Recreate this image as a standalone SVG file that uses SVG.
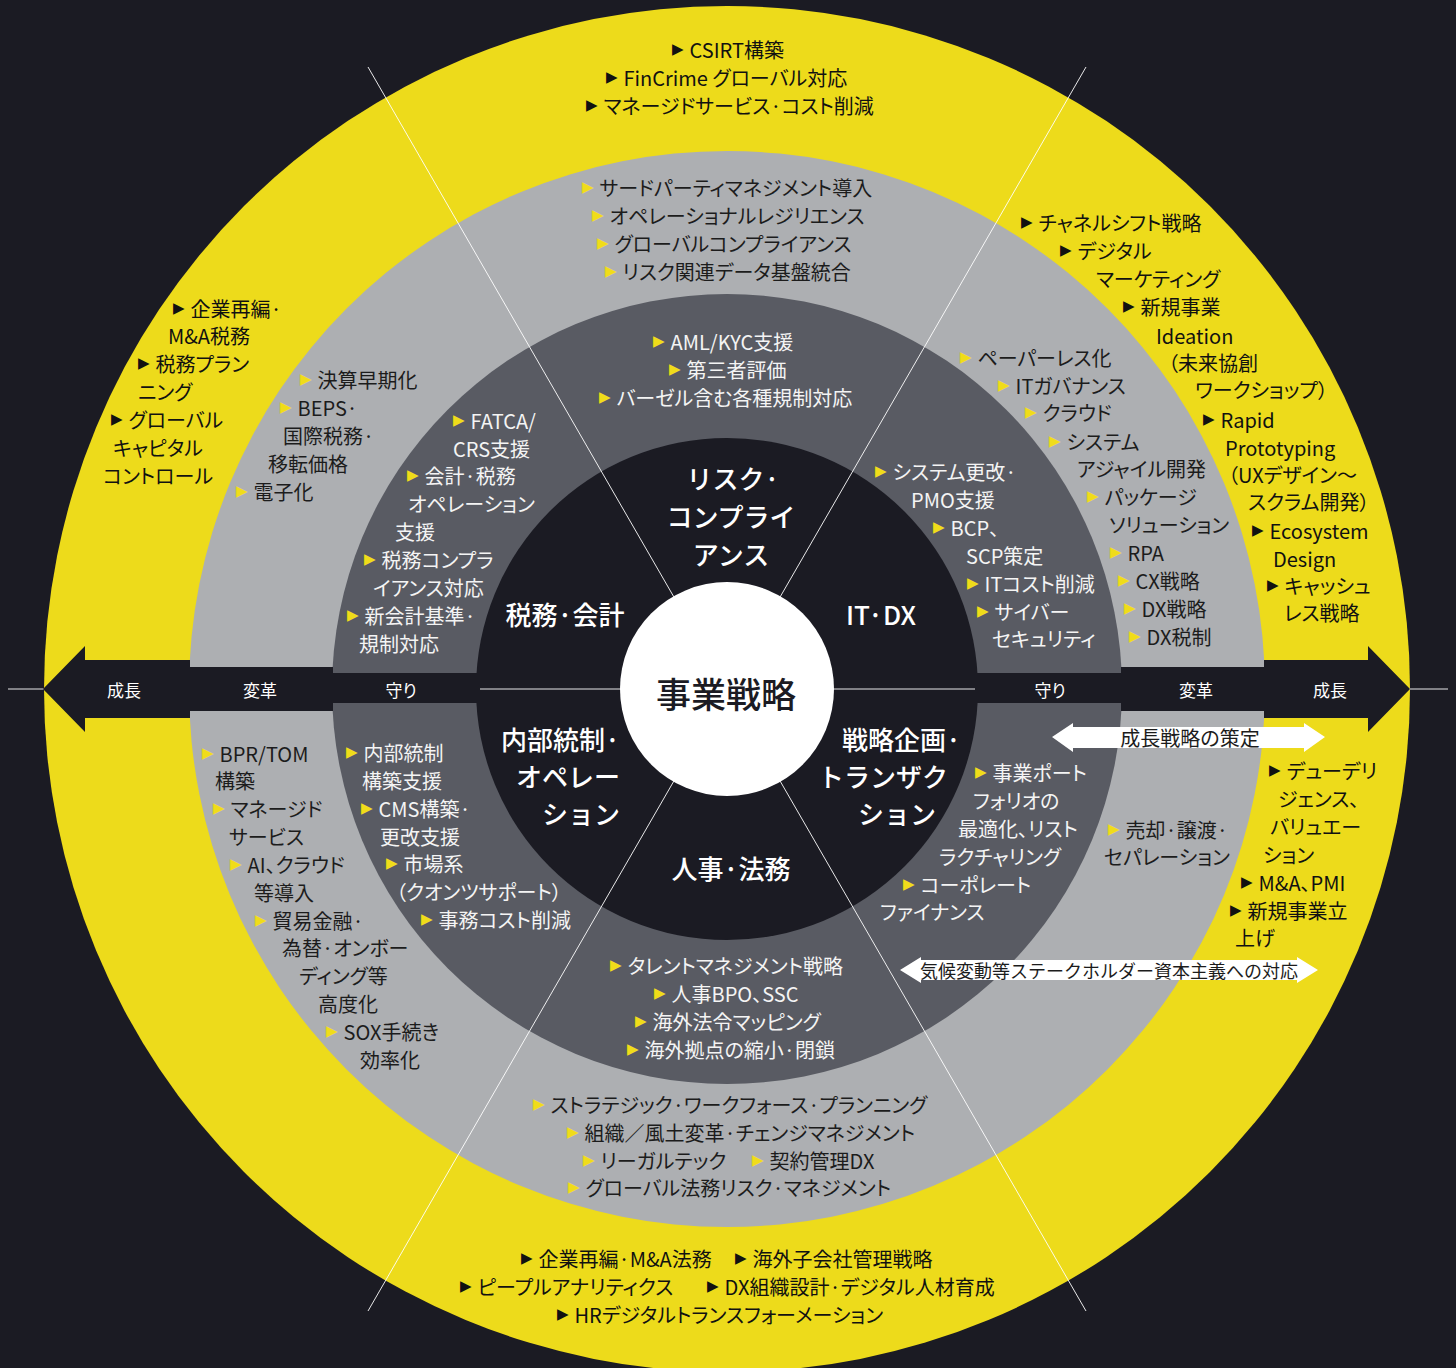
<svg xmlns="http://www.w3.org/2000/svg" width="1456" height="1368" viewBox="0 0 1456 1368">
<style>
text{font-family:"Noto Sans CJK JP","Noto Sans",sans-serif;font-size:20px;dominant-baseline:central;font-feature-settings:"palt"}
.k{fill:#111}
.g{fill:#1c1c1c}
.w{fill:#f4f4f4}
.bk{fill:#111;font-family:"DejaVu Sans",sans-serif;font-size:15px;font-feature-settings:normal}
.by{fill:#f0dc1a;font-family:"DejaVu Sans",sans-serif;font-size:15px;font-feature-settings:normal}
.lab{fill:#fff;font-size:26px;font-weight:500;text-anchor:middle;font-feature-settings:normal}
.band{fill:#fff;font-size:17px;text-anchor:middle}
.rad{stroke:#fff;stroke-width:1;opacity:.9}
.dk{fill:#1b1b23}
</style>
<rect width="1456" height="1368" fill="#1b1b23"/>
<g id="rings">
<circle cx="727" cy="689" r="683" fill="#eddb1b"/>
<circle cx="727" cy="689" r="538" fill="#adafb2"/>
<circle cx="727" cy="689" r="395" fill="#595b63"/>
<circle cx="727" cy="689" r="251" fill="#1b1b23"/>
</g>
<g id="connectors">
<line class="rad" x1="368" y1="67" x2="1086" y2="1311"/>
<line class="rad" x1="1086" y1="67" x2="368" y2="1311"/>
<line class="rad" x1="8" y1="689" x2="1448" y2="689"/>
<polygon class="dk" points="43,689 85,646 85,660 190,660 190,667 333,667 333,673 480,673 480,703 333,703 333,711 190,711 190,718 85,718 85,732"/>
<polygon class="dk" points="1410,689 1368,646 1368,660 1264,660 1264,667 1121,667 1121,673 975,673 975,703 1121,703 1121,711 1264,711 1264,718 1368,718 1368,732"/>
<text class="band" x="124" y="689">成長</text>
<text class="band" x="260" y="689">変革</text>
<text class="band" x="401" y="689">守り</text>
<text class="band" x="1050" y="689">守り</text>
<text class="band" x="1196" y="689">変革</text>
<text class="band" x="1330" y="689">成長</text>
<polygon fill="#fff" points="1052,737 1073,723 1073,727 1304,727 1304,723 1325,737 1304,752 1304,748 1073,748 1073,752"/>
<text class="g" x="1190" y="737" text-anchor="middle">成長戦略の策定</text>
<polygon fill="#fff" points="900,970 921,957 921,960 1297,960 1297,957 1318,970 1297,983 1297,980 921,980 921,983"/>
<text class="g" x="1109" y="970" text-anchor="middle" style="font-size:18px;font-feature-settings:normal">気候変動等ステークホルダー資本主義への対応</text>
</g>
<g id="core">
<circle cx="727" cy="689" r="107" fill="#fff"/>
<text x="726" y="692" text-anchor="middle" style="font-size:35px;font-weight:500;fill:#1b1b23;font-feature-settings:normal">事業戦略</text>
</g>
<g id="risk">
<text class="lab" x="733" y="477">リスク·</text>
<text class="lab" x="731" y="515">コンプライ</text>
<text class="lab" x="731" y="553">アンス</text>
<text class="k" x="672" y="49"><tspan class="bk">▶</tspan><tspan dx="6">CSIRT構築</tspan></text>
<text class="k" x="606" y="77"><tspan class="bk">▶</tspan><tspan dx="6">FinCrime グローバル対応</tspan></text>
<text class="k" x="586" y="105"><tspan class="bk">▶</tspan><tspan dx="6">マネージドサービス·コスト削減</tspan></text>
<text class="g" x="582" y="187"><tspan class="by">▶</tspan><tspan dx="6">サードパーティマネジメント導入</tspan></text>
<text class="g" x="592" y="215"><tspan class="by">▶</tspan><tspan dx="6">オペレーショナルレジリエンス</tspan></text>
<text class="g" x="597" y="243"><tspan class="by">▶</tspan><tspan dx="6">グローバルコンプライアンス</tspan></text>
<text class="g" x="605" y="271"><tspan class="by">▶</tspan><tspan dx="6">リスク関連データ基盤統合</tspan></text>
<text class="w" x="653" y="341"><tspan class="by">▶</tspan><tspan dx="6">AML/KYC支援</tspan></text>
<text class="w" x="669" y="369"><tspan class="by">▶</tspan><tspan dx="6">第三者評価</tspan></text>
<text class="w" x="599" y="397"><tspan class="by">▶</tspan><tspan dx="6">バーゼル含む各種規制対応</tspan></text>
</g>
<g id="itdx">
<text class="lab" x="881" y="613">IT·DX</text>
<text class="k" x="1021" y="222"><tspan class="bk">▶</tspan><tspan dx="6">チャネルシフト戦略</tspan></text>
<text class="k" x="1060" y="250"><tspan class="bk">▶</tspan><tspan dx="6">デジタル</tspan></text>
<text class="k" x="1096" y="278">マーケティング</text>
<text class="k" x="1123" y="306"><tspan class="bk">▶</tspan><tspan dx="6">新規事業</tspan></text>
<text class="k" x="1156" y="335">Ideation</text>
<text class="k" x="1168" y="362">（未来協創</text>
<text class="k" x="1195" y="389">ワークショップ）</text>
<text class="k" x="1203" y="419"><tspan class="bk">▶</tspan><tspan dx="6">Rapid</tspan></text>
<text class="k" x="1225" y="447">Prototyping</text>
<text class="k" x="1228" y="474">（UXデザイン～</text>
<text class="k" x="1248" y="501">スクラム開発）</text>
<text class="k" x="1252" y="530"><tspan class="bk">▶</tspan><tspan dx="6">Ecosystem</tspan></text>
<text class="k" x="1273" y="558">Design</text>
<text class="k" x="1267" y="585"><tspan class="bk">▶</tspan><tspan dx="6">キャッシュ</tspan></text>
<text class="k" x="1284" y="612">レス戦略</text>
<text class="g" x="960" y="357"><tspan class="by">▶</tspan><tspan dx="6">ペーパーレス化</tspan></text>
<text class="g" x="998" y="385"><tspan class="by">▶</tspan><tspan dx="6">ITガバナンス</tspan></text>
<text class="g" x="1025" y="412"><tspan class="by">▶</tspan><tspan dx="6">クラウド</tspan></text>
<text class="g" x="1049" y="441"><tspan class="by">▶</tspan><tspan dx="6">システム</tspan></text>
<text class="g" x="1077" y="468">アジャイル開発</text>
<text class="g" x="1087" y="496"><tspan class="by">▶</tspan><tspan dx="6">パッケージ</tspan></text>
<text class="g" x="1109" y="524">ソリューション</text>
<text class="g" x="1110" y="552"><tspan class="by">▶</tspan><tspan dx="6">RPA</tspan></text>
<text class="g" x="1118" y="580"><tspan class="by">▶</tspan><tspan dx="6">CX戦略</tspan></text>
<text class="g" x="1124" y="608"><tspan class="by">▶</tspan><tspan dx="6">DX戦略</tspan></text>
<text class="g" x="1129" y="636"><tspan class="by">▶</tspan><tspan dx="6">DX税制</tspan></text>
<text class="w" x="875" y="471"><tspan class="by">▶</tspan><tspan dx="6">システム更改·</tspan></text>
<text class="w" x="911" y="499">PMO支援</text>
<text class="w" x="933" y="527"><tspan class="by">▶</tspan><tspan dx="6">BCP、</tspan></text>
<text class="w" x="966" y="555">SCP策定</text>
<text class="w" x="967" y="583"><tspan class="by">▶</tspan><tspan dx="6">ITコスト削減</tspan></text>
<text class="w" x="977" y="611"><tspan class="by">▶</tspan><tspan dx="6">サイバー</tspan></text>
<text class="w" x="992" y="638">セキュリティ</text>
</g>
<g id="tax">
<text class="lab" x="565" y="613">税務·会計</text>
<text class="k" x="173" y="308"><tspan class="bk">▶</tspan><tspan dx="6">企業再編·</tspan></text>
<text class="k" x="168" y="335">M&amp;A税務</text>
<text class="k" x="138" y="363"><tspan class="bk">▶</tspan><tspan dx="6">税務プラン</tspan></text>
<text class="k" x="138" y="391">ニング</text>
<text class="k" x="111" y="419"><tspan class="bk">▶</tspan><tspan dx="6">グローバル</tspan></text>
<text class="k" x="113" y="447">キャピタル</text>
<text class="k" x="103" y="475">コントロール</text>
<text class="g" x="300" y="379"><tspan class="by">▶</tspan><tspan dx="6">決算早期化</tspan></text>
<text class="g" x="280" y="407"><tspan class="by">▶</tspan><tspan dx="6">BEPS·</tspan></text>
<text class="g" x="283" y="435">国際税務·</text>
<text class="g" x="268" y="463">移転価格</text>
<text class="g" x="236" y="491"><tspan class="by">▶</tspan><tspan dx="6">電子化</tspan></text>
<text class="w" x="453" y="420"><tspan class="by">▶</tspan><tspan dx="6">FATCA/</tspan></text>
<text class="w" x="453" y="448">CRS支援</text>
<text class="w" x="407" y="475"><tspan class="by">▶</tspan><tspan dx="6">会計·税務</tspan></text>
<text class="w" x="408" y="503">オペレーション</text>
<text class="w" x="395" y="531">支援</text>
<text class="w" x="364" y="559"><tspan class="by">▶</tspan><tspan dx="6">税務コンプラ</tspan></text>
<text class="w" x="373" y="587">イアンス対応</text>
<text class="w" x="347" y="615"><tspan class="by">▶</tspan><tspan dx="6">新会計基準·</tspan></text>
<text class="w" x="359" y="643">規制対応</text>
</g>
<g id="internal">
<text class="lab" x="620" y="738" style="text-anchor:end">内部統制·</text>
<text class="lab" x="620" y="775" style="text-anchor:end">オペレー</text>
<text class="lab" x="620" y="812" style="text-anchor:end">ション</text>
<text class="g" x="202" y="753"><tspan class="by">▶</tspan><tspan dx="6">BPR/TOM</tspan></text>
<text class="g" x="215" y="780">構築</text>
<text class="g" x="213" y="808"><tspan class="by">▶</tspan><tspan dx="6">マネージド</tspan></text>
<text class="g" x="229" y="836">サービス</text>
<text class="g" x="230" y="864"><tspan class="by">▶</tspan><tspan dx="6">AI、クラウド</tspan></text>
<text class="g" x="254" y="892">等導入</text>
<text class="g" x="255" y="920"><tspan class="by">▶</tspan><tspan dx="6">貿易金融·</tspan></text>
<text class="g" x="282" y="947">為替·オンボー</text>
<text class="g" x="299" y="975">ディング等</text>
<text class="g" x="318" y="1003">高度化</text>
<text class="g" x="326" y="1031"><tspan class="by">▶</tspan><tspan dx="6">SOX手続き</tspan></text>
<text class="g" x="360" y="1059">効率化</text>
<text class="w" x="346" y="752"><tspan class="by">▶</tspan><tspan dx="6">内部統制</tspan></text>
<text class="w" x="362" y="780">構築支援</text>
<text class="w" x="361" y="808"><tspan class="by">▶</tspan><tspan dx="6">CMS構築·</tspan></text>
<text class="w" x="380" y="836">更改支援</text>
<text class="w" x="386" y="863"><tspan class="by">▶</tspan><tspan dx="6">市場系</tspan></text>
<text class="w" x="396" y="891">（クオンツサポート）</text>
<text class="w" x="421" y="919"><tspan class="by">▶</tspan><tspan dx="6">事務コスト削減</tspan></text>
</g>
<g id="strategy">
<text class="lab" x="842" y="738" style="text-anchor:start">戦略企画·</text>
<text class="lab" x="818" y="775" style="text-anchor:start">トランザク</text>
<text class="lab" x="858" y="812" style="text-anchor:start">ション</text>
<text class="w" x="975" y="772"><tspan class="by">▶</tspan><tspan dx="6">事業ポート</tspan></text>
<text class="w" x="973" y="800">フォリオの</text>
<text class="w" x="958" y="828">最適化、リスト</text>
<text class="w" x="939" y="856">ラクチャリング</text>
<text class="w" x="903" y="884"><tspan class="by">▶</tspan><tspan dx="6">コーポレート</tspan></text>
<text class="w" x="880" y="911">ファイナンス</text>
<text class="g" x="1108" y="829"><tspan class="by">▶</tspan><tspan dx="6">売却·譲渡·</tspan></text>
<text class="g" x="1104" y="856">セパレーション</text>
<text class="k" x="1269" y="770"><tspan class="bk">▶</tspan><tspan dx="6">デューデリ</tspan></text>
<text class="k" x="1278" y="798">ジェンス、</text>
<text class="k" x="1270" y="826">バリュエー</text>
<text class="k" x="1263" y="854">ション</text>
<text class="k" x="1241" y="882"><tspan class="bk">▶</tspan><tspan dx="6">M&amp;A、PMI</tspan></text>
<text class="k" x="1230" y="910"><tspan class="bk">▶</tspan><tspan dx="6">新規事業立</tspan></text>
<text class="k" x="1235" y="937">上げ</text>
</g>
<g id="hr">
<text class="lab" x="731" y="867">人事·法務</text>
<text class="w" x="610" y="965"><tspan class="by">▶</tspan><tspan dx="6">タレントマネジメント戦略</tspan></text>
<text class="w" x="654" y="993"><tspan class="by">▶</tspan><tspan dx="6">人事BPO、SSC</tspan></text>
<text class="w" x="635" y="1021"><tspan class="by">▶</tspan><tspan dx="6">海外法令マッピング</tspan></text>
<text class="w" x="627" y="1049"><tspan class="by">▶</tspan><tspan dx="6">海外拠点の縮小·閉鎖</tspan></text>
<text class="g" x="533" y="1104"><tspan class="by">▶</tspan><tspan dx="6">ストラテジック·ワークフォース·プランニング</tspan></text>
<text class="g" x="567" y="1132"><tspan class="by">▶</tspan><tspan dx="6">組織／風土変革·チェンジマネジメント</tspan></text>
<text class="g" x="583" y="1160"><tspan class="by">▶</tspan><tspan dx="6">リーガルテック</tspan></text>
<text class="g" x="752" y="1160"><tspan class="by">▶</tspan><tspan dx="6">契約管理DX</tspan></text>
<text class="g" x="568" y="1187"><tspan class="by">▶</tspan><tspan dx="6">グローバル法務リスク·マネジメント</tspan></text>
<text class="k" x="521" y="1258"><tspan class="bk">▶</tspan><tspan dx="6">企業再編·M&amp;A法務</tspan></text>
<text class="k" x="735" y="1258"><tspan class="bk">▶</tspan><tspan dx="6">海外子会社管理戦略</tspan></text>
<text class="k" x="460" y="1286"><tspan class="bk">▶</tspan><tspan dx="6">ピープルアナリティクス</tspan></text>
<text class="k" x="707" y="1286"><tspan class="bk">▶</tspan><tspan dx="6">DX組織設計·デジタル人材育成</tspan></text>
<text class="k" x="557" y="1314"><tspan class="bk">▶</tspan><tspan dx="6">HRデジタルトランスフォーメーション</tspan></text>
</g>
</svg>
